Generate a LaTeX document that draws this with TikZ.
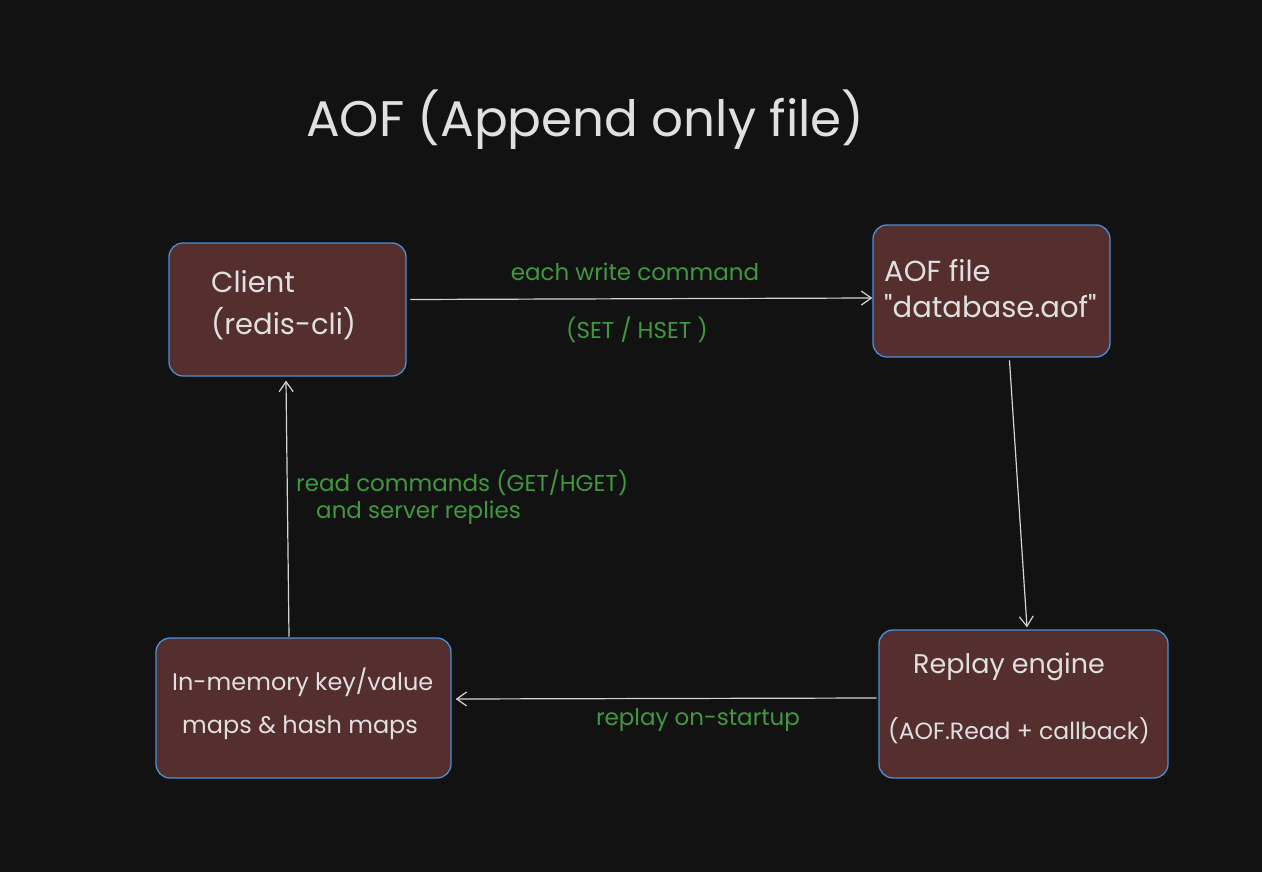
\documentclass[tikz,border=0pt]{standalone}
\usepackage{fontspec}
\setmainfont{Poppins}[Ligatures=TeXOff]
\usetikzlibrary{arrows.meta}
\definecolor{bg}{HTML}{121212}
\definecolor{boxfill}{HTML}{552E2E}
\definecolor{boxblue}{HTML}{4A8FDB}
\definecolor{txt}{HTML}{E0E0E0}
\definecolor{grn}{HTML}{40983F}
\definecolor{wire}{HTML}{D4D4D4}
\begin{document}
\begin{tikzpicture}[x=1pt,y=-1pt,line join=round,line cap=round,>={Straight Barb[length=10pt,width=14pt]},
    box/.style={draw=boxblue,fill=boxfill,line width=1.3pt,rounded corners=14pt,inner sep=0pt},
    boxtext/.style={text=txt,font=\fontsize{29}{42}\selectfont,align=left,anchor=west,inner sep=0pt},
    note/.style={text=grn,font=\fontsize{23}{30}\selectfont,inner sep=0pt},
    link/.style={draw=wire,line width=1.2pt,->}]
    % canvas
    \fill[bg] (0,0) rectangle (1262,872);
    \path[use as bounding box] (0,0) rectangle (1262,872);
    \node[text=txt,font=\fontsize{50}{54}\selectfont,anchor=west,inner sep=0pt] (title) at (306,120) {AOF (Append only file)};
    % boxes
    \node[box,minimum width=237,minimum height=133] (client) at (287.5,309.5) {};
    \node[box,minimum width=237,minimum height=132] (aof) at (991.5,291) {};
    \node[box,minimum width=289,minimum height=148] (replay) at (1023.5,704) {};
    \node[box,minimum width=295,minimum height=140] (memory) at (303.5,708) {};
    \node[boxtext] (clientlbl) at (211,305) {Client\\(redis-cli)};
    \node[boxtext,font=\fontsize{29}{36}\selectfont] (aoflbl) at (884,289) {AOF file\\"database.aof"};
    \node[boxtext,font=\fontsize{27}{30}\selectfont] (replaylbl) at (913,667) {Replay engine};
    \node[boxtext,font=\fontsize{23.5}{30}\selectfont] (replaysub) at (888,731) {(AOF.Read + callback)};
    \node[boxtext,font=\fontsize{24}{43}\selectfont] (memlbl) at (172,704) {In-memory key/value\\\hspace*{10pt}maps \& hash maps};
    % connectors
    \draw[link] ([xshift=4pt,yshift=10pt]client.east) -- ([yshift=-7pt]aof.west);
    \draw[link] ([xshift=18pt,yshift=-3pt]aof.south) -- ([xshift=3.5pt,yshift=2pt]replay.north);
    \draw[link] ([xshift=-2pt,yshift=6pt]replay.west) -- ([xshift=4pt,yshift=9pt]memory.east);
    \draw[link] ([xshift=-14.5pt,yshift=1pt]memory.north) -- ([xshift=-1.5pt,yshift=-4pt]client.south);
    % labels
    \node[note] (writelbl) at (635,272) {each write command};
    \node[note] (setlbl) at (637,330) {(SET / HSET )};
    \node[note,anchor=west] (readlbl) at (296,483) {read commands (GET/HGET)};
    \node[note,anchor=west] (replylbl) at (316,513) {and server replies};
    \node[note] (startlbl) at (698,720) {replay on-startup};
\end{tikzpicture}
\end{document}
